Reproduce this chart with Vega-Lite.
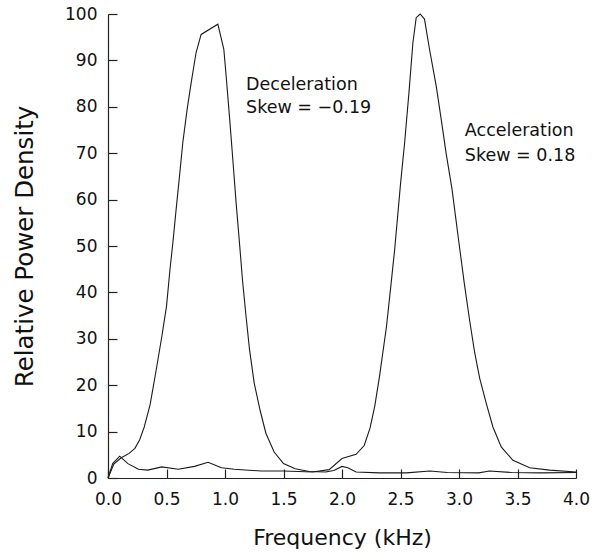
{
  "$schema": "https://vega.github.io/schema/vega-lite/v6.json",
  "autosize": "none",
  "width": 468,
  "height": 464,
  "padding": {"left": 108, "top": 14, "right": 22, "bottom": 78},
  "background": "white",
  "config": {
    "view": {"stroke": null},
    "font": "DejaVu Sans",
    "axis": {"grid": false, "domainColor": "#222", "tickColor": "#222", "labelColor": "#111", "titleColor": "#111", "labelFont": "DejaVu Sans", "titleFont": "DejaVu Sans", "titleFontWeight": "normal", "labelFontSize": 17, "tickSize": -9, "domainWidth": 1.2, "tickWidth": 1.2}
  },
  "datasets": {
    "curves": [
      {"series": "Deceleration", "f": 0, "p": 0},
      {"series": "Deceleration", "f": 0.05, "p": 3.0},
      {"series": "Deceleration", "f": 0.11, "p": 4.3},
      {"series": "Deceleration", "f": 0.18, "p": 5.3},
      {"series": "Deceleration", "f": 0.23, "p": 6.4},
      {"series": "Deceleration", "f": 0.27, "p": 8.2},
      {"series": "Deceleration", "f": 0.31, "p": 11},
      {"series": "Deceleration", "f": 0.36, "p": 15.8},
      {"series": "Deceleration", "f": 0.41, "p": 23},
      {"series": "Deceleration", "f": 0.46, "p": 30.5},
      {"series": "Deceleration", "f": 0.5, "p": 37},
      {"series": "Deceleration", "f": 0.53, "p": 45},
      {"series": "Deceleration", "f": 0.554, "p": 50.6},
      {"series": "Deceleration", "f": 0.582, "p": 57.8},
      {"series": "Deceleration", "f": 0.611, "p": 65},
      {"series": "Deceleration", "f": 0.639, "p": 72.2},
      {"series": "Deceleration", "f": 0.676, "p": 79.4},
      {"series": "Deceleration", "f": 0.711, "p": 85.2},
      {"series": "Deceleration", "f": 0.753, "p": 91.7},
      {"series": "Deceleration", "f": 0.796, "p": 95.6},
      {"series": "Deceleration", "f": 0.939, "p": 97.8},
      {"series": "Deceleration", "f": 0.99, "p": 92.4},
      {"series": "Deceleration", "f": 1.01, "p": 86.6},
      {"series": "Deceleration", "f": 1.038, "p": 78},
      {"series": "Deceleration", "f": 1.067, "p": 68.6},
      {"series": "Deceleration", "f": 1.095, "p": 59.3},
      {"series": "Deceleration", "f": 1.124, "p": 50.6},
      {"series": "Deceleration", "f": 1.15, "p": 42.5},
      {"series": "Deceleration", "f": 1.18, "p": 34.8},
      {"series": "Deceleration", "f": 1.21, "p": 27.6},
      {"series": "Deceleration", "f": 1.25, "p": 20.4},
      {"series": "Deceleration", "f": 1.3, "p": 14.6},
      {"series": "Deceleration", "f": 1.35, "p": 9.6},
      {"series": "Deceleration", "f": 1.42, "p": 5.6},
      {"series": "Deceleration", "f": 1.5, "p": 3.1},
      {"series": "Deceleration", "f": 1.6, "p": 2.0},
      {"series": "Deceleration", "f": 1.72, "p": 1.4},
      {"series": "Deceleration", "f": 1.86, "p": 1.3},
      {"series": "Deceleration", "f": 1.93, "p": 1.6},
      {"series": "Deceleration", "f": 2.0, "p": 2.5},
      {"series": "Deceleration", "f": 2.05, "p": 2.2},
      {"series": "Deceleration", "f": 2.12, "p": 1.3},
      {"series": "Deceleration", "f": 2.32, "p": 1.1},
      {"series": "Deceleration", "f": 2.55, "p": 1.1},
      {"series": "Deceleration", "f": 2.75, "p": 1.5},
      {"series": "Deceleration", "f": 2.9, "p": 1.2},
      {"series": "Deceleration", "f": 3.17, "p": 1.1},
      {"series": "Deceleration", "f": 3.26, "p": 1.5},
      {"series": "Deceleration", "f": 3.45, "p": 1.2},
      {"series": "Deceleration", "f": 3.7, "p": 1.1},
      {"series": "Deceleration", "f": 4.0, "p": 1.2},
      {"series": "Acceleration", "f": 0, "p": 0},
      {"series": "Acceleration", "f": 0.04, "p": 3.1},
      {"series": "Acceleration", "f": 0.1, "p": 4.7},
      {"series": "Acceleration", "f": 0.17, "p": 3.1},
      {"series": "Acceleration", "f": 0.26, "p": 1.9},
      {"series": "Acceleration", "f": 0.34, "p": 1.7},
      {"series": "Acceleration", "f": 0.46, "p": 2.4},
      {"series": "Acceleration", "f": 0.6, "p": 1.9},
      {"series": "Acceleration", "f": 0.74, "p": 2.5},
      {"series": "Acceleration", "f": 0.855, "p": 3.4},
      {"series": "Acceleration", "f": 0.97, "p": 2.2},
      {"series": "Acceleration", "f": 1.08, "p": 1.9},
      {"series": "Acceleration", "f": 1.31, "p": 1.5},
      {"series": "Acceleration", "f": 1.5, "p": 1.5},
      {"series": "Acceleration", "f": 1.75, "p": 1.3},
      {"series": "Acceleration", "f": 1.89, "p": 1.8},
      {"series": "Acceleration", "f": 2.0, "p": 4.2},
      {"series": "Acceleration", "f": 2.12, "p": 5.1},
      {"series": "Acceleration", "f": 2.19, "p": 7.0},
      {"series": "Acceleration", "f": 2.24, "p": 10.8},
      {"series": "Acceleration", "f": 2.28, "p": 15.5},
      {"series": "Acceleration", "f": 2.32, "p": 21.8},
      {"series": "Acceleration", "f": 2.38, "p": 32.6},
      {"series": "Acceleration", "f": 2.42, "p": 42},
      {"series": "Acceleration", "f": 2.45, "p": 49.2},
      {"series": "Acceleration", "f": 2.501, "p": 63.6},
      {"series": "Acceleration", "f": 2.535, "p": 72.2},
      {"series": "Acceleration", "f": 2.572, "p": 83},
      {"series": "Acceleration", "f": 2.606, "p": 93.8},
      {"series": "Acceleration", "f": 2.634, "p": 99.2},
      {"series": "Acceleration", "f": 2.668, "p": 100},
      {"series": "Acceleration", "f": 2.705, "p": 98.9},
      {"series": "Acceleration", "f": 2.748, "p": 92.4},
      {"series": "Acceleration", "f": 2.805, "p": 84.5},
      {"series": "Acceleration", "f": 2.848, "p": 77.3},
      {"series": "Acceleration", "f": 2.891, "p": 69.8},
      {"series": "Acceleration", "f": 2.94, "p": 62.3},
      {"series": "Acceleration", "f": 3.0, "p": 50.6},
      {"series": "Acceleration", "f": 3.045, "p": 42},
      {"series": "Acceleration", "f": 3.09, "p": 34.1},
      {"series": "Acceleration", "f": 3.133, "p": 27.2},
      {"series": "Acceleration", "f": 3.176, "p": 21.6},
      {"series": "Acceleration", "f": 3.233, "p": 16.1},
      {"series": "Acceleration", "f": 3.29, "p": 11},
      {"series": "Acceleration", "f": 3.361, "p": 6.7},
      {"series": "Acceleration", "f": 3.461, "p": 3.8},
      {"series": "Acceleration", "f": 3.604, "p": 2.2},
      {"series": "Acceleration", "f": 3.775, "p": 1.7},
      {"series": "Acceleration", "f": 4.0, "p": 1.3}
    ],
    "labels": [
      {"f": 1.18, "p": 84.8, "text": "Deceleration"},
      {"f": 1.18, "p": 79.8, "text": "Skew = \u22120.19"},
      {"f": 3.05, "p": 74.8, "text": "Acceleration"},
      {"f": 3.05, "p": 69.4, "text": "Skew = 0.18"}
    ]
  },
  "layer": [
    {
      "data": {"name": "curves"},
      "mark": {"type": "line", "color": "#1a1a1a", "strokeWidth": 1.1, "interpolate": "linear"},
      "encoding": {
        "x": {"field": "f", "type": "quantitative", "scale": {"domain": [0, 4], "nice": false, "zero": false}, "axis": {"title": "Frequency (kHz)", "titleFontSize": 22, "values": [0, 0.5, 1, 1.5, 2, 2.5, 3, 3.5, 4], "format": ".1f", "labelPadding": 22, "titlePadding": 20, "labelFlush": false}},
        "y": {"field": "p", "type": "quantitative", "scale": {"domain": [0, 100], "nice": false}, "axis": {"title": "Relative Power Density", "titleFontSize": 24.5, "values": [0, 10, 20, 30, 40, 50, 60, 70, 80, 90, 100], "labelPadding": 20, "titlePadding": 27, "labelFlush": false}},
        "detail": {"field": "series", "type": "nominal"}
      }
    },
    {
      "data": {"name": "labels"},
      "mark": {"type": "text", "align": "left", "baseline": "middle", "fontSize": 17.5, "font": "DejaVu Sans", "color": "#111"},
      "encoding": {
        "x": {"field": "f", "type": "quantitative"},
        "y": {"field": "p", "type": "quantitative"},
        "text": {"field": "text", "type": "nominal"}
      }
    }
  ]
}
